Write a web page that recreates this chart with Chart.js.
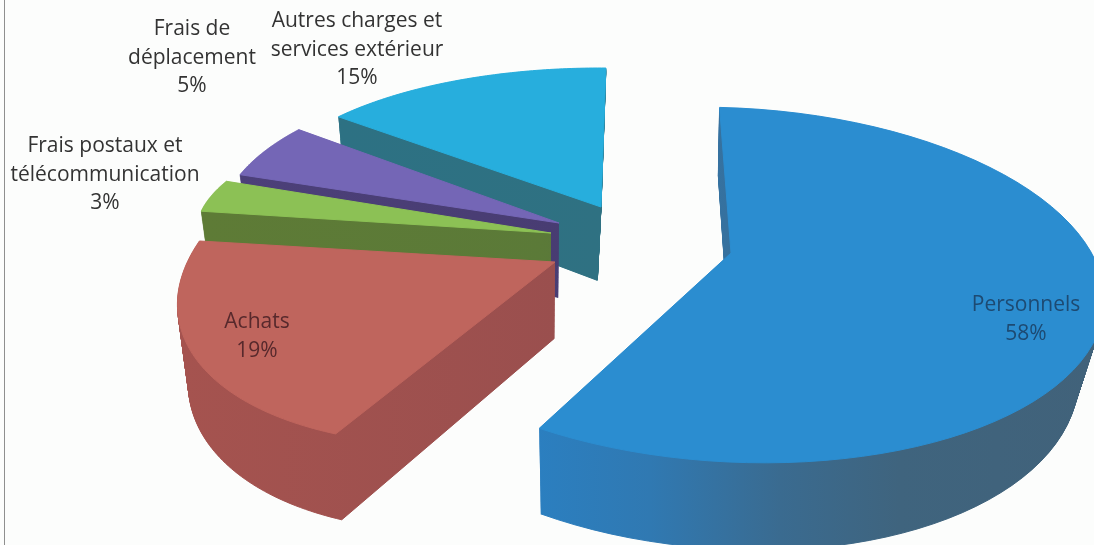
<!DOCTYPE html>
<html lang="fr">
<head>
<meta charset="utf-8">
<style>
html,body{margin:0;padding:0;background:#fcfdfc;overflow:hidden}
#wrap{position:relative;width:1094px;height:545px}
#edge{position:absolute;left:4px;top:0;width:1px;height:545px;background:#8f8f8f}
canvas{position:absolute;left:0;top:0}
</style>
</head>
<body>
<div id="wrap"><div id="edge"></div><canvas id="c" width="1094" height="545"></canvas></div>
<script src="https://cdn.jsdelivr.net/npm/chart.js@4"></script>
<script>
const categories = ["Personnels","Achats","Frais postaux et\ntélécommunication","Frais de\ndéplacement","Autres charges et\nservices extérieur"];
const percentages = [58,19,3,5,15];
const topColors = ["#2b8dd0","#bf655d","#8cc155","#7466b6","#27aedd"];

// How each slice of the exploded, tilted pie is placed on the page
const rad = d => d*Math.PI/180;
const placement = [
  {apex:[731,253],c:[733,285],rx:372,ry:177,tilt:3, phi0:266.5,stretch:1.0225,pivotL:620,pivotR:700,slopeL:0.02,slopeR:0.065},
  {apex:[555,262],c:[510,270],rx:335,ry:170,tilt:-8,phi0:125.7,stretch:1.16,pivotL:540,pivotR:540,slopeL:0.03,slopeR:0.045},
  {apex:[551,233],c:[551,233],rx:355,ry:128,tilt:0, phi0:189.8,stretch:1.3,pivotL:540,pivotR:540,slopeL:0.03,slopeR:0.045},
  {apex:[559,223],c:[565,225],rx:345,ry:150,tilt:0, phi0:199.6,stretch:1.105,pivotL:540,pivotR:540,slopeL:0.03,slopeR:0.045},
  {apex:[601,207],c:[600,203],rx:340,ry:135,tilt:0, phi0:219.7,stretch:0.95,pivotL:540,pivotR:540,slopeL:0.03,slopeR:0.06}
];
const sideStops = [
  [[535,"#2b7fc0"],[650,"#3079b2"],[780,"#3a6b90"],[900,"#3f647e"],[1094,"#41627a"]],
  [[180,"#a5534f"],[560,"#9a4f4e"]],
  [[200,"#5e7b36"],[555,"#5b7a38"]],
  [[235,"#4c4079"],[560,"#483c72"]],
  [[340,"#2d7183"],[605,"#2f7182"]]
];
const labelSpots = [
  {x:1026,y:305,color:"#1d4a72"},
  {x:257,y:322,color:"#57292c"},
  {x:105,y:146,color:"#333333"},
  {x:192,y:29,color:"#333333"},
  {x:357,y:21,color:"#333333"}
];
const paintOrder = [4,3,2,1,0];
const depthLayers = 90;

function lower(p,pl){         // where a point of the top face lands on the bottom face
  const x=p[0], lean = x>pl.pivotR ? -pl.slopeR*(x-pl.pivotR) : (x<pl.pivotL ? pl.slopeL*(pl.pivotL-x) : 0);
  return [x+lean, p[1]+62+0.055*p[1]];
}
function outline(arc,pl){     // top-face outline, from the angles the pie controller computed
  const pts=[pl.apex], n=70, span=arc.endAngle-arc.startAngle;
  const ct=Math.cos(rad(pl.tilt)), st=Math.sin(rad(pl.tilt));
  for(let i=0;i<=n;i++){
    const phi=rad(pl.phi0)+pl.stretch*span*i/n;
    const u=pl.rx*Math.cos(phi), v=pl.ry*Math.sin(phi);
    pts.push([pl.c[0]+u*ct-v*st, pl.c[1]+u*st+v*ct]);
  }
  return pts;
}
function fillPoly(ctx,pts,style){
  ctx.beginPath();
  pts.forEach((p,i)=>i?ctx.lineTo(p[0],p[1]):ctx.moveTo(p[0],p[1]));
  ctx.closePath();
  ctx.fillStyle=style; ctx.strokeStyle=style; ctx.lineWidth=1;
  ctx.fill(); ctx.stroke();
}
const pie3d={
  id:'pie3d',
  beforeDatasetsDraw(chart){
    const ctx=chart.ctx, arcs=chart.getDatasetMeta(0).data;
    ctx.save();
    paintOrder.forEach(i=>{
      const pl=placement[i], pts=outline(arcs[i],pl);
      const st=sideStops[i];
      const g=ctx.createLinearGradient(st[0][0],0,st[st.length-1][0],0);
      st.forEach(s=>g.addColorStop((s[0]-st[0][0])/(st[st.length-1][0]-st[0][0]),s[1]));
      for(let k=depthLayers;k>=1;k--){
        const f=k/depthLayers;
        fillPoly(ctx,pts.map(p=>{const q=lower(p,pl);return [p[0]+(q[0]-p[0])*f,p[1]+(q[1]-p[1])*f];}),g);
      }
      fillPoly(ctx,pts,topColors[i]);
    });
    ctx.restore();
    return false;
  },
  afterDraw(chart){
    const ctx=chart.ctx;
    ctx.save();
    ctx.font='21px "Open Sans", Lato, sans-serif';
    ctx.textAlign='center'; ctx.textBaseline='middle';
    categories.forEach((label,i)=>{
      const lines=label.split("\n").concat(percentages[i]+"%");
      ctx.fillStyle=labelSpots[i].color;
      lines.forEach((t,j)=>ctx.fillText(t,labelSpots[i].x,labelSpots[i].y+j*28.7));
    });
    ctx.restore();
  }
};
new Chart(document.getElementById('c'),{
  type:'pie',
  data:{labels:categories,datasets:[{data:percentages,backgroundColor:topColors,borderWidth:0}]},
  options:{responsive:false,animation:false,rotation:0,
    plugins:{legend:{display:false},tooltip:{enabled:false},title:{display:false}}},
  plugins:[pie3d]
});
</script>
</body>
</html>
